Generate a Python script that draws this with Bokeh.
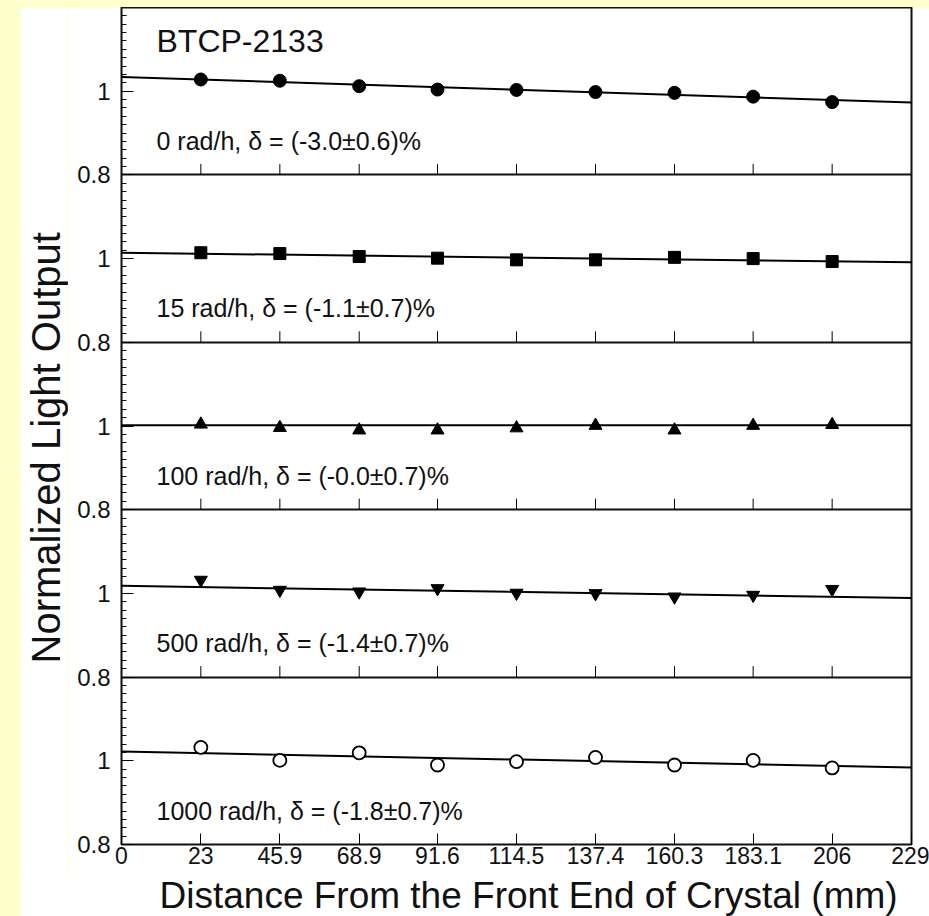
import numpy as np
from bokeh.plotting import figure
from bokeh.models import Range1d, FixedTicker
from bokeh.layouts import column, row
from bokeh.core.properties import value
from bokeh.embed import file_html
from bokeh.resources import INLINE

# ---------------- data ----------------
distance_mm = [23, 45.9, 68.9, 91.6, 114.5, 137.4, 160.3, 183.1, 206]
x_tick_values = [0, 23, 45.9, 68.9, 91.6, 114.5, 137.4, 160.3, 183.1, 206, 229]
x_tick_labels = ["0", "23", "45.9", "68.9", "91.6", "114.5", "137.4", "160.3", "183.1", "206", "229"]
y_tick_labels = ["0.8", "1"]
fit_x = [0, 229]

crystal_id = "BTCP-2133"
x_title = "Distance From the Front End of Crystal (mm)"
y_title = "Normalized Light Output"
dose_rates = ["0 rad/h", "15 rad/h", "100 rad/h", "500 rad/h", "1000 rad/h"]
deltas = ["(-3.0\u00b10.6)%", "(-1.1\u00b10.7)%", "(-0.0\u00b10.7)%", "(-1.4\u00b10.7)%", "(-1.8\u00b10.7)%"]

lo_0 = [1.028, 1.025, 1.012, 1.004, 1.003, 0.998, 0.996, 0.987, 0.974]
lo_15 = [1.014, 1.012, 1.005, 1.001, 0.997, 0.997, 1.003, 1.000, 0.993]
lo_100 = [1.004, 0.996, 0.990, 0.990, 0.995, 1.001, 0.990, 1.001, 1.003]
lo_500 = [1.032, 1.008, 1.004, 1.012, 1.001, 1.000, 0.992, 0.996, 1.010]
lo_1000 = [1.032, 1.001, 1.019, 0.990, 0.998, 1.008, 0.990, 1.001, 0.983]

fit_0 = [1.034, 0.973]
fit_15 = [1.014, 0.991]
fit_100 = [1.002, 1.002]
fit_500 = [1.018, 0.989]
fit_1000 = [1.022, 0.984]

series = [lo_0, lo_15, lo_100, lo_500, lo_1000]
fits = [fit_0, fit_15, fit_100, fit_500, fit_1000]

# ---------------- style ----------------
BG = "#FFFFCC"
FONT = "Liberation Sans"
INK = "#111111"
markers = ["circle", "square", "triangle", "inverted_triangle", "circle"]
marker_sizes = [13, 12, 13, 13, 13]
marker_fills = ["black", "black", "black", "black", "white"]
N = len(series)
PANEL_LO, PANEL_HI = 0.8, 1.2
SPAN = PANEL_HI - PANEL_LO

YT_W = 48          # width of the strip holding the y title
MAIN_H = 865       # main figure height
XT_H = 916 - 7 - MAIN_H  # strip holding the x title

p = figure(width=929 - 20 - YT_W, height=MAIN_H, title=None,
           x_range=Range1d(0, 229), y_range=Range1d(PANEL_LO, PANEL_LO + N * SPAN),
           output_backend="svg", toolbar_location=None,
           min_border=0, min_border_left=101 - YT_W, min_border_right=18,
           min_border_top=0, min_border_bottom=MAIN_H - 837,
           background_fill_color="white", border_fill_color="white")
p.grid.visible = False
p.outline_line_color = INK
p.outline_line_width = 2

# each panel gets its own range, stacked inside the one frame
range_names = []
for i in range(N):
    k = N - 1 - i  # panel index from the bottom
    if k == 0:
        range_names.append("default")
    else:
        name = f"panel{k}"
        p.extra_y_ranges[name] = Range1d(PANEL_LO - k * SPAN, PANEL_LO - k * SPAN + N * SPAN)
        range_names.append(name)

# left axis (labels repeat per panel)
y_ticks = [round(PANEL_LO + 0.2 * j, 6) for j in range(2 * N)]
y_minor = [round(PANEL_LO + 0.02 * j, 6) for j in range(10 * N * 2)]
ya = p.yaxis[0]
ya.ticker = FixedTicker(ticks=y_ticks, minor_ticks=y_minor)
ya.major_label_overrides = {t: y_tick_labels[j % 2] for j, t in enumerate(y_ticks)}
ya.major_tick_in = 12
ya.major_tick_out = 0
ya.minor_tick_in = 5
ya.minor_tick_out = 0
ya.axis_line_color = None
ya.major_tick_line_color = "black"
ya.minor_tick_line_color = "black"
ya.major_label_text_font = FONT
ya.major_label_text_font_size = "24px"
ya.major_label_text_color = INK
ya.major_label_standoff = 11

xa = p.xaxis[0]
xa.ticker = FixedTicker(ticks=x_tick_values)
xa.major_label_overrides = dict(zip(x_tick_values, x_tick_labels))
xa.major_tick_in = 11
xa.major_tick_out = 0
xa.axis_line_color = None
xa.major_tick_line_color = "black"
xa.major_label_text_font = FONT
xa.major_label_text_font_size = "23px"
xa.major_label_text_color = INK
xa.major_label_standoff = 2

tick_len = SPAN * 11 / 167.4

for i in range(N):
    rn = range_names[i]
    k = N - 1 - i
    if k > 0:
        # separator line and inner x ticks for the panel
        p.hspan(y=[PANEL_LO], y_range_name=rn, line_color=INK, line_width=2)
        p.segment(x0=distance_mm, y0=[PANEL_LO] * len(distance_mm),
                  x1=distance_mm, y1=[PANEL_LO + tick_len] * len(distance_mm),
                  y_range_name=rn, line_color="black", line_width=1)
    p.line(fit_x, fits[i], y_range_name=rn, line_color="black", line_width=2)
    p.scatter(distance_mm, series[i], y_range_name=rn, marker=markers[i],
              size=marker_sizes[i], fill_color=marker_fills[i], line_color="black",
              line_width=1.8 if marker_fills[i] == "white" else 1)
    p.text(x=[10.15], y=[0.881], text=[f"{dose_rates[i]}, \u03b4 = {deltas[i]}"],
           y_range_name=rn, text_font=value(FONT), text_font_size="25px",
           text_color=INK, text_align="left", text_baseline="alphabetic")

p.text(x=[10.15], y=[1.119], text=[crystal_id], y_range_name=range_names[0],
       text_font=value(FONT), text_font_size="32px", text_color=INK,
       text_align="left", text_baseline="alphabetic")


def strip(w, h):
    f = figure(width=w, height=h, title=None, x_range=Range1d(0, w), y_range=Range1d(0, h),
               output_backend="svg", toolbar_location=None, min_border=0,
               x_axis_location=None, y_axis_location=None,
               background_fill_color="white", border_fill_color="white")
    f.outline_line_color = None
    f.grid.visible = False
    return f


# y title strip (pixel coordinates inside the strip)
ytf = strip(YT_W, MAIN_H)
ytf.text(x=[25], y=[MAIN_H + 7 - 462], text=[y_title], angle=np.pi / 2,
         text_font=value(FONT), text_font_size="40px", text_color=INK,
         text_align="center", text_baseline="alphabetic")

# x title strip
xtf = strip(909, XT_H)
xtf.text(x=[139], y=[21], text=[x_title],
         text_font=value(FONT), text_font_size="37px", text_color=INK,
         text_align="left", text_baseline="alphabetic")

top = row(ytf, p)
top.margin = (7, 0, 0, 20)
xtf.margin = (0, 0, 0, 20)
page = column(top, xtf, styles={"background-color": BG}, width=929, height=916)

open("out.html", "w").write(file_html(page, INLINE))
